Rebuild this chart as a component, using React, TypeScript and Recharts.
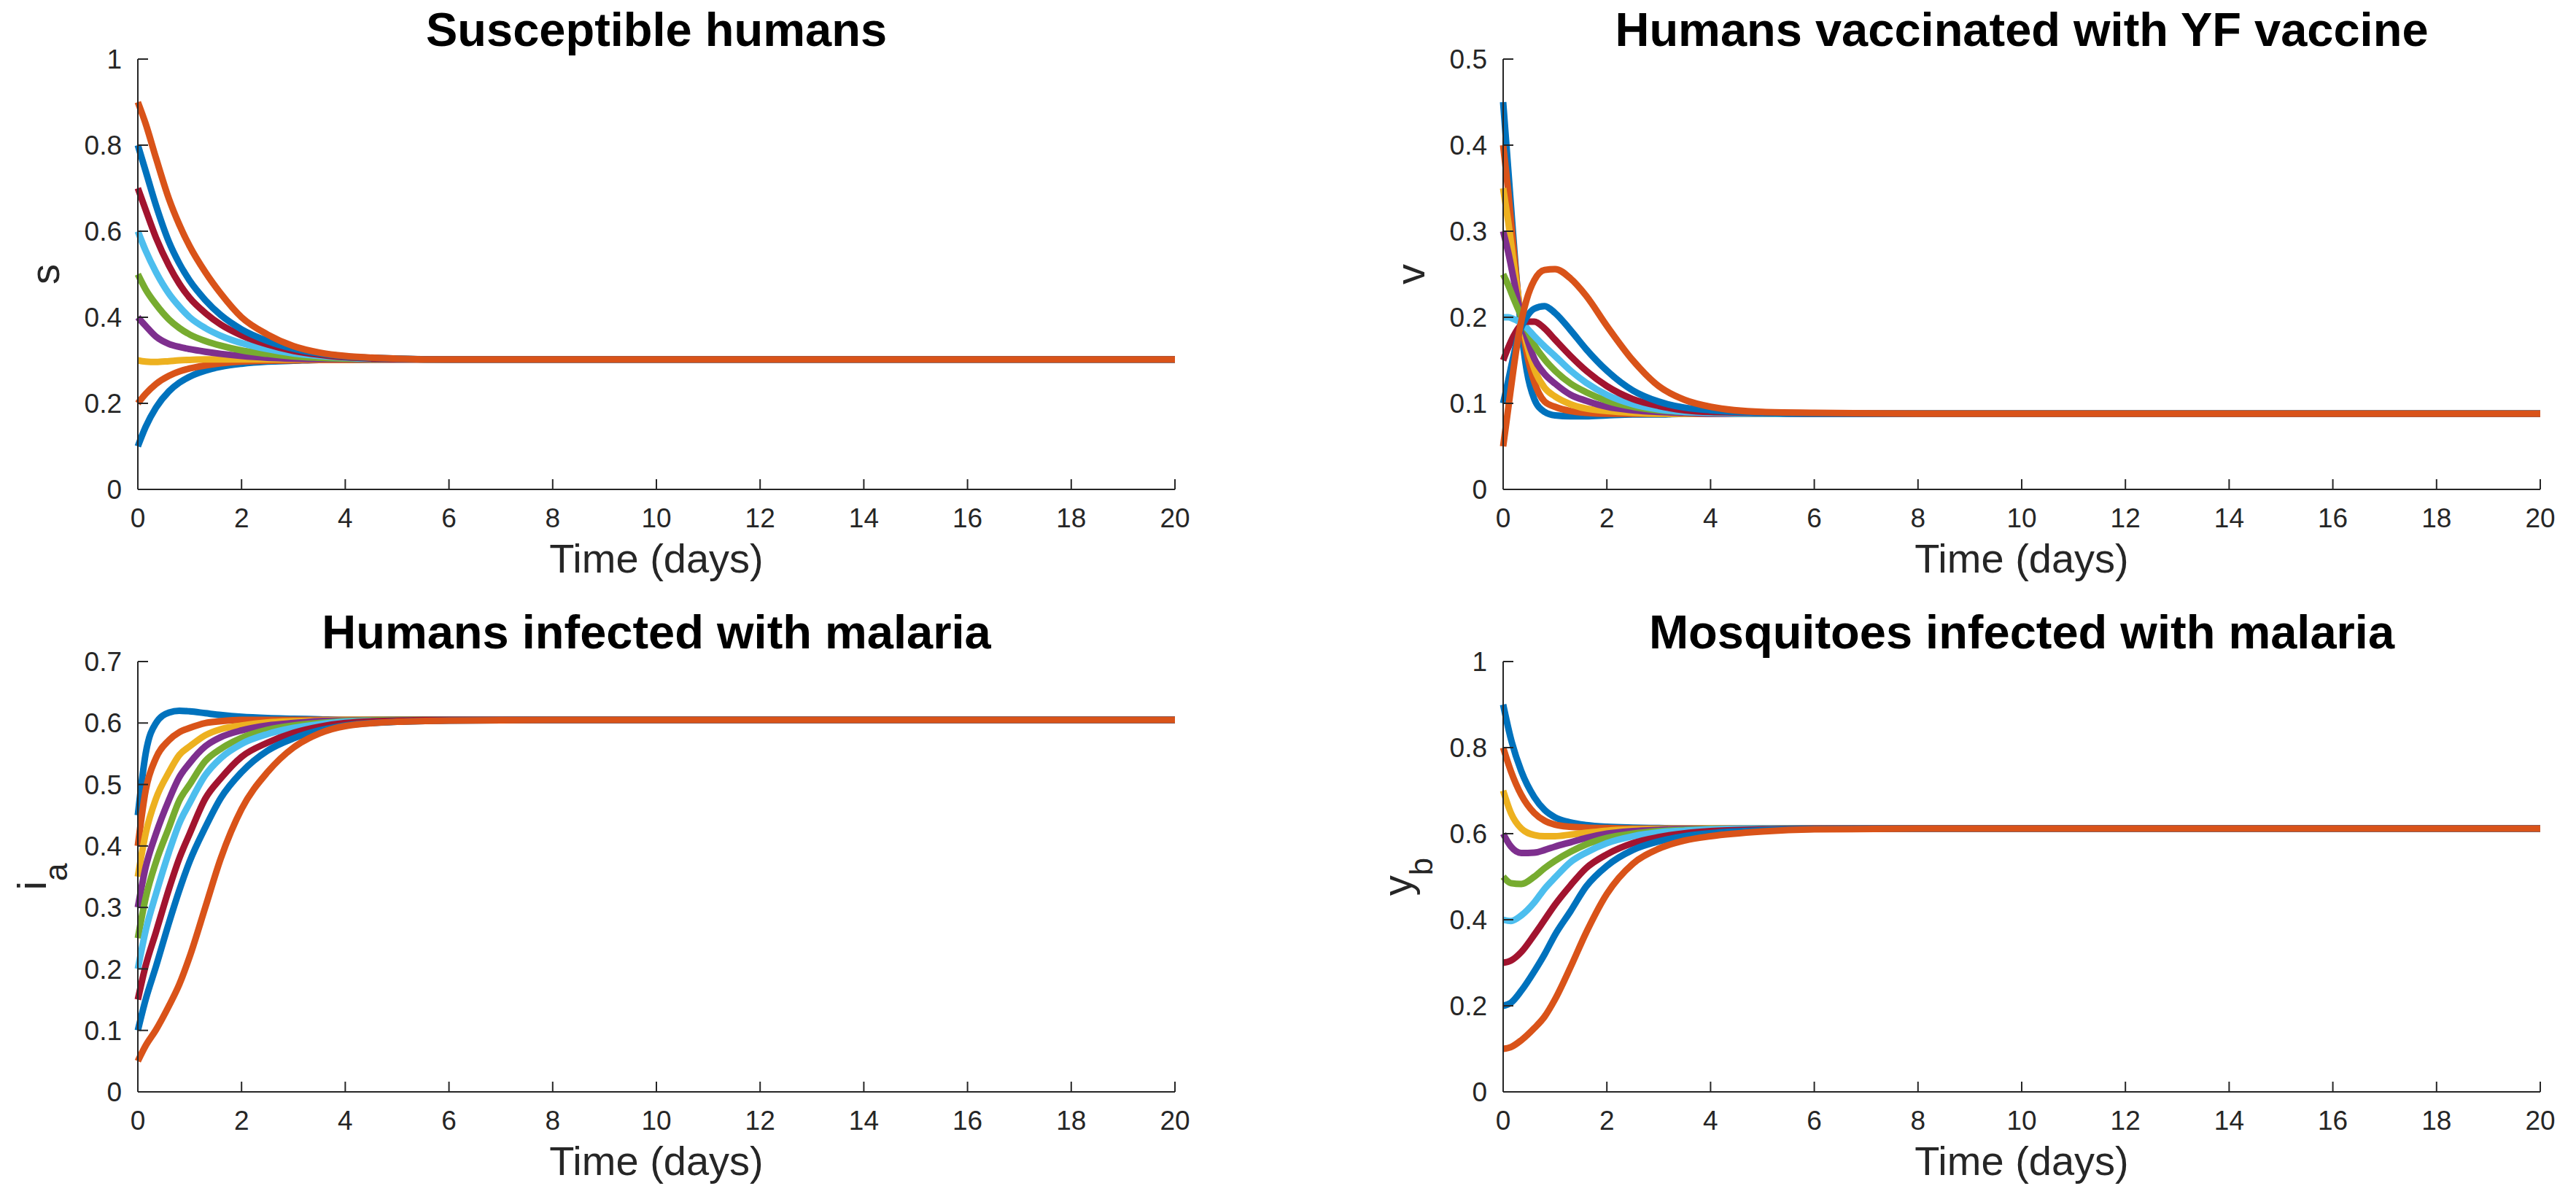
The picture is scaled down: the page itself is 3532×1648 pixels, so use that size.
import React from 'react';
import { LineChart, Line, XAxis, YAxis } from 'recharts';

const SERIES_COLORS = ['#0072BD', '#D95319', '#EDB120', '#7E2F8E', '#77AC30', '#4DBEEE', '#A2142F', '#0072BD', '#D95319'];

// time grids (days)
const timeDays = [0, 0.15, 0.35, 0.6, 0.8, 1.0, 1.3, 1.6, 2.0, 2.5, 3.0, 3.5, 4.0, 5.0, 6.0, 8.0, 20];
const timeDaysV = [0, 0.1, 0.2, 0.3, 0.45, 0.6, 0.8, 1.0, 1.3, 1.6, 2.0, 2.5, 3.0, 3.5, 4.0, 5.0, 6.0, 8.0, 20];

// tick labels
const xTickValues = [0, 2, 4, 6, 8, 10, 12, 14, 16, 18, 20];
const sTicks = [0, 0.2, 0.4, 0.6, 0.8, 1];
const vTicks = [0, 0.1, 0.2, 0.3, 0.4, 0.5];
const iaTicks = [0, 0.1, 0.2, 0.3, 0.4, 0.5, 0.6, 0.7];
const ybTicks = [0, 0.2, 0.4, 0.6, 0.8, 1];

// Susceptible humans s
const s1 = [0.1, 0.145, 0.19, 0.228, 0.248, 0.262, 0.276, 0.285, 0.292, 0.297, 0.299, 0.301, 0.301, 0.302, 0.302, 0.302, 0.302];
const s2 = [0.2, 0.222, 0.245, 0.264, 0.274, 0.281, 0.288, 0.293, 0.297, 0.299, 0.3, 0.301, 0.301, 0.302, 0.302, 0.302, 0.302];
const s3 = [0.3, 0.297, 0.296, 0.298, 0.3, 0.301, 0.302, 0.302, 0.302, 0.302, 0.302, 0.302, 0.302, 0.302, 0.302, 0.302, 0.302];
const s4 = [0.4, 0.38, 0.355, 0.338, 0.331, 0.326, 0.32, 0.315, 0.31, 0.306, 0.304, 0.303, 0.303, 0.302, 0.302, 0.302, 0.302];
const s5 = [0.5, 0.465, 0.43, 0.395, 0.375, 0.36, 0.345, 0.334, 0.323, 0.315, 0.309, 0.306, 0.304, 0.303, 0.302, 0.302, 0.302];
const s6 = [0.6, 0.555, 0.505, 0.455, 0.425, 0.4, 0.375, 0.357, 0.34, 0.326, 0.316, 0.31, 0.306, 0.303, 0.302, 0.302, 0.302];
const s7 = [0.7, 0.65, 0.585, 0.52, 0.478, 0.445, 0.41, 0.383, 0.358, 0.337, 0.322, 0.313, 0.307, 0.303, 0.302, 0.302, 0.302];
const s8 = [0.8, 0.74, 0.66, 0.575, 0.525, 0.485, 0.44, 0.405, 0.372, 0.345, 0.327, 0.316, 0.309, 0.304, 0.302, 0.302, 0.302];
const s9 = [0.9, 0.85, 0.77, 0.675, 0.615, 0.565, 0.505, 0.455, 0.4, 0.36, 0.333, 0.318, 0.31, 0.304, 0.302, 0.302, 0.302];

// Humans vaccinated v
const v1 = [0.45, 0.37, 0.29, 0.215, 0.14, 0.105, 0.09, 0.086, 0.085, 0.085, 0.086, 0.087, 0.087, 0.088, 0.088, 0.088, 0.088, 0.088, 0.088];
const v2 = [0.4, 0.345, 0.28, 0.22, 0.16, 0.125, 0.102, 0.096, 0.091, 0.089, 0.088, 0.088, 0.088, 0.088, 0.088, 0.088, 0.088, 0.088, 0.088];
const v3 = [0.35, 0.31, 0.265, 0.22, 0.17, 0.14, 0.118, 0.108, 0.099, 0.094, 0.091, 0.089, 0.088, 0.088, 0.088, 0.088, 0.088, 0.088, 0.088];
const v4 = [0.3, 0.275, 0.245, 0.215, 0.178, 0.152, 0.134, 0.123, 0.11, 0.103, 0.096, 0.092, 0.09, 0.089, 0.088, 0.088, 0.088, 0.088, 0.088];
const v5 = [0.25, 0.237, 0.222, 0.208, 0.187, 0.168, 0.151, 0.138, 0.123, 0.113, 0.103, 0.096, 0.092, 0.09, 0.089, 0.088, 0.088, 0.088, 0.088];
const v6 = [0.2, 0.2, 0.198, 0.195, 0.188, 0.178, 0.166, 0.155, 0.138, 0.124, 0.11, 0.099, 0.093, 0.09, 0.089, 0.088, 0.088, 0.088, 0.088];
const v7 = [0.15, 0.165, 0.178, 0.188, 0.195, 0.195, 0.187, 0.174, 0.155, 0.138, 0.12, 0.105, 0.097, 0.092, 0.09, 0.089, 0.088, 0.088, 0.088];
const v8 = [0.1, 0.127, 0.155, 0.18, 0.2, 0.21, 0.213, 0.205, 0.185, 0.163, 0.138, 0.115, 0.102, 0.095, 0.092, 0.089, 0.088, 0.088, 0.088];
const v9 = [0.05, 0.095, 0.14, 0.18, 0.22, 0.243, 0.255, 0.256, 0.245, 0.225, 0.19, 0.15, 0.12, 0.104, 0.096, 0.09, 0.089, 0.088, 0.088];

// Humans infected with malaria i_a
const a1 = [0.45, 0.55, 0.6, 0.617, 0.62, 0.619, 0.616, 0.613, 0.61, 0.608, 0.607, 0.606, 0.605, 0.605, 0.605, 0.605, 0.605];
const a2 = [0.4, 0.49, 0.543, 0.572, 0.585, 0.592, 0.6, 0.603, 0.605, 0.605, 0.605, 0.605, 0.605, 0.605, 0.605, 0.605, 0.605];
const a3 = [0.35, 0.42, 0.477, 0.52, 0.548, 0.562, 0.58, 0.59, 0.596, 0.601, 0.603, 0.604, 0.605, 0.605, 0.605, 0.605, 0.605];
const a4 = [0.3, 0.365, 0.42, 0.475, 0.512, 0.535, 0.562, 0.577, 0.588, 0.596, 0.6, 0.603, 0.604, 0.605, 0.605, 0.605, 0.605];
const a5 = [0.25, 0.315, 0.374, 0.43, 0.474, 0.5, 0.538, 0.558, 0.576, 0.589, 0.596, 0.6, 0.603, 0.605, 0.605, 0.605, 0.605];
const a6 = [0.2, 0.262, 0.322, 0.39, 0.437, 0.47, 0.515, 0.543, 0.566, 0.582, 0.592, 0.598, 0.602, 0.604, 0.605, 0.605, 0.605];
const a7 = [0.15, 0.205, 0.26, 0.33, 0.38, 0.42, 0.477, 0.51, 0.545, 0.568, 0.584, 0.594, 0.6, 0.604, 0.605, 0.605, 0.605];
const a8 = [0.1, 0.15, 0.204, 0.275, 0.328, 0.375, 0.43, 0.478, 0.52, 0.555, 0.575, 0.588, 0.596, 0.602, 0.604, 0.605, 0.605];
const a9 = [0.05, 0.075, 0.101, 0.14, 0.175, 0.22, 0.3, 0.38, 0.46, 0.52, 0.56, 0.583, 0.595, 0.602, 0.604, 0.605, 0.605];

// Mosquitoes infected with malaria y_b
const b1 = [0.9, 0.82, 0.745, 0.685, 0.655, 0.638, 0.626, 0.62, 0.616, 0.614, 0.613, 0.612, 0.612, 0.612, 0.612, 0.612, 0.612];
const b2 = [0.8, 0.745, 0.69, 0.648, 0.63, 0.621, 0.616, 0.614, 0.613, 0.612, 0.612, 0.612, 0.612, 0.612, 0.612, 0.612, 0.612];
const b3 = [0.7, 0.648, 0.612, 0.597, 0.594, 0.594, 0.598, 0.602, 0.607, 0.61, 0.611, 0.612, 0.612, 0.612, 0.612, 0.612, 0.612];
const b4 = [0.6, 0.57, 0.555, 0.556, 0.562, 0.57, 0.58, 0.59, 0.6, 0.606, 0.609, 0.611, 0.611, 0.612, 0.612, 0.612, 0.612];
const b5 = [0.5, 0.485, 0.483, 0.5, 0.52, 0.537, 0.558, 0.575, 0.59, 0.6, 0.606, 0.609, 0.611, 0.612, 0.612, 0.612, 0.612];
const b6 = [0.4, 0.397, 0.41, 0.44, 0.472, 0.498, 0.534, 0.556, 0.578, 0.594, 0.603, 0.607, 0.61, 0.612, 0.612, 0.612, 0.612];
const b7 = [0.3, 0.305, 0.325, 0.365, 0.4, 0.435, 0.48, 0.52, 0.552, 0.578, 0.592, 0.601, 0.606, 0.61, 0.612, 0.612, 0.612];
const b8 = [0.2, 0.207, 0.235, 0.28, 0.32, 0.365, 0.42, 0.477, 0.525, 0.562, 0.582, 0.594, 0.601, 0.608, 0.611, 0.612, 0.612];
const b9 = [0.1, 0.104, 0.12, 0.148, 0.175, 0.215, 0.29, 0.37, 0.46, 0.53, 0.565, 0.584, 0.594, 0.605, 0.61, 0.612, 0.612];

const FONT = '"Liberation Sans", Arial, Helvetica, sans-serif';
const AXIS_COLOR = '#262626';

const PLOT_LEFT = 189;
const PLOT_TOP = 81;
const PLOT_W = 1422;
const PLOT_H = 590;
const YAXIS_W = 120;
const XAXIS_H = 100;
const RIGHT_PAD = 40;
const BOTTOM_PAD = 50;
const CHART_W = PLOT_LEFT + PLOT_W + RIGHT_PAD;
const CHART_H = PLOT_TOP + PLOT_H + XAXIS_H + BOTTOM_PAD;

const fmt = (v: number) => String(Number(v.toFixed(2)));

type PanelProps = {
  x: number;
  y: number;
  title: string;
  yMain: string;
  ySub?: string;
  times: number[];
  series: number[][];
  yTicks: number[];
  yMax: number;
};

function Panel({ x, y, title, yMain, ySub, times, series, yTicks, yMax }: PanelProps) {
  const data = times.map((t, i) => {
    const row: Record<string, number> = { t };
    series.forEach((s, k) => {
      row['c' + k] = s[i];
    });
    return row;
  });
  const axisStroke = { stroke: AXIS_COLOR, strokeWidth: 2 };
  const tickStyle = { fill: AXIS_COLOR, fontSize: 37, fontFamily: FONT };
  const cx = PLOT_LEFT + PLOT_W / 2;
  const cy = PLOT_TOP + PLOT_H / 2;
  const yLabelX = ySub ? PLOT_LEFT - 126 : PLOT_LEFT - 108;
  return (
    <div style={{ position: 'absolute', left: x, top: y, width: CHART_W, height: CHART_H }}>
      <LineChart
        width={CHART_W}
        height={CHART_H}
        data={data}
        margin={{ top: PLOT_TOP, right: RIGHT_PAD, bottom: BOTTOM_PAD, left: PLOT_LEFT - YAXIS_W }}
      >
        <XAxis
          xAxisId="bottom"
          dataKey="t"
          type="number"
          domain={[0, 20]}
          ticks={xTickValues}
          interval={0}
          orientation="bottom"
          height={XAXIS_H}
          tickSize={-14}
          tickMargin={40}
          axisLine={axisStroke}
          tickLine={axisStroke}
          tick={tickStyle}
        />
        <XAxis
          xAxisId="top"
          dataKey="t"
          type="number"
          domain={[0, 20]}
          ticks={xTickValues}
          interval={0}
          orientation="top"
          height={0}
          tickSize={-14}
          axisLine={axisStroke}
          tickLine={axisStroke}
          tick={false}
        />
        <YAxis
          yAxisId="left"
          type="number"
          domain={[0, yMax]}
          ticks={yTicks}
          interval={0}
          width={YAXIS_W}
          tickSize={-14}
          tickMargin={36}
          axisLine={axisStroke}
          tickLine={axisStroke}
          tick={tickStyle}
          tickFormatter={fmt}
        />
        <YAxis
          yAxisId="right"
          orientation="right"
          type="number"
          domain={[0, yMax]}
          ticks={yTicks}
          interval={0}
          width={0}
          tickSize={-14}
          axisLine={axisStroke}
          tickLine={axisStroke}
          tick={false}
        />
        {series.map((_, k) => (
          <Line
            key={k}
            xAxisId="bottom"
            yAxisId="left"
            dataKey={'c' + k}
            type="monotone"
            stroke={SERIES_COLORS[k]}
            strokeWidth={9}
            dot={false}
            activeDot={false}
            isAnimationActive={false}
          />
        ))}
        <Line
          xAxisId="top"
          yAxisId="right"
          dataKey="c0"
          stroke="none"
          strokeWidth={0}
          dot={false}
          activeDot={false}
          isAnimationActive={false}
        />
      </LineChart>
      <svg
        width={CHART_W}
        height={CHART_H}
        style={{ position: 'absolute', left: 0, top: 0, pointerEvents: 'none', overflow: 'visible' }}
      >
        <text x={cx} y={PLOT_TOP - 18} textAnchor="middle" fontFamily={FONT} fontWeight="bold" fontSize={65} fill="#000">
          {title}
        </text>
        <text x={cx} y={PLOT_TOP + PLOT_H + 114} textAnchor="middle" fontFamily={FONT} fontSize={56} fill={AXIS_COLOR}>
          Time (days)
        </text>
        <text
          x={yLabelX}
          y={cy}
          transform={`rotate(-90 ${yLabelX} ${cy})`}
          textAnchor="middle"
          fontFamily={FONT}
          fontSize={56}
          fill={AXIS_COLOR}
        >
          {yMain}
          {ySub ? (
            <tspan fontSize={44} dy={29}>
              {ySub}
            </tspan>
          ) : null}
        </text>
      </svg>
    </div>
  );
}

export default function App() {
  return (
    <div style={{ position: 'absolute', left: 0, top: 0, width: 3532, height: 1648, overflow: 'hidden', background: '#fff' }}>
      <Panel
        x={0}
        y={0}
        title="Susceptible humans"
        yMain="s"
        times={timeDays}
        series={[s1, s2, s3, s4, s5, s6, s7, s8, s9]}
        yTicks={sTicks}
        yMax={1}
      />
      <Panel
        x={1872}
        y={0}
        title="Humans vaccinated with YF vaccine"
        yMain="v"
        times={timeDaysV}
        series={[v1, v2, v3, v4, v5, v6, v7, v8, v9]}
        yTicks={vTicks}
        yMax={0.5}
      />
      <Panel
        x={0}
        y={826}
        title="Humans infected with malaria"
        yMain="i"
        ySub="a"
        times={timeDays}
        series={[a1, a2, a3, a4, a5, a6, a7, a8, a9]}
        yTicks={iaTicks}
        yMax={0.7}
      />
      <Panel
        x={1872}
        y={826}
        title="Mosquitoes infected with malaria"
        yMain="y"
        ySub="b"
        times={timeDays}
        series={[b1, b2, b3, b4, b5, b6, b7, b8, b9]}
        yTicks={ybTicks}
        yMax={1}
      />
    </div>
  );
}
